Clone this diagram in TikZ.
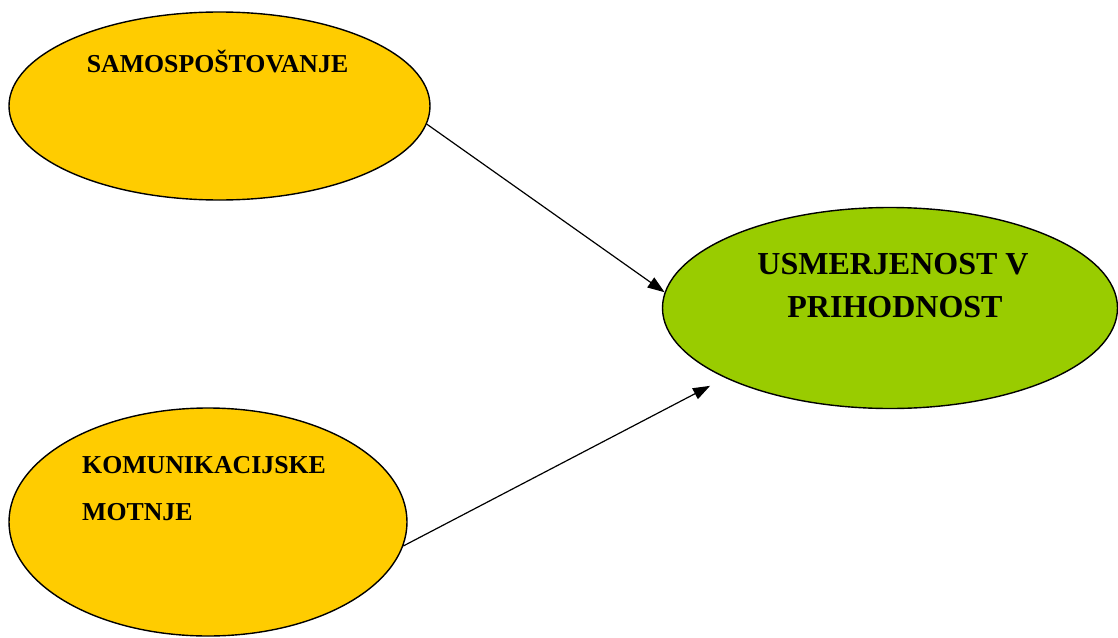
\documentclass[tikz,border=0pt]{standalone}
\usepackage{fontspec}
\setmainfont{Liberation Serif}
\usepackage{tikz}
\usetikzlibrary{shapes.geometric, arrows.meta}
\usepackage{xcolor}
\definecolor{rumena}{HTML}{FFCC00}
\definecolor{zelena}{HTML}{99CC00}

\begin{document}
\begin{tikzpicture}[x=1pt, y=-1pt,
    elipsa/.style={ellipse, draw, line width=1.4pt, inner sep=0pt},
    napis/.style={inner sep=0pt, font=\bfseries\fontsize{25.8}{30}\selectfont},
    velik/.style={inner sep=0pt, font=\bfseries\fontsize{32}{38}\selectfont},
    puscica/.style={-{Triangle[length=17pt, width=12pt]}, line width=1.2pt}]
    \useasboundingbox (0,0) rectangle (1118,637);

    % Elipse
    \node[elipsa, fill=rumena, minimum width=421pt, minimum height=188pt] (samo) at (219.5,106) {};
    \node[elipsa, fill=rumena, minimum width=398pt, minimum height=228pt] (kom) at (208,522) {};
    \node[elipsa, fill=zelena, minimum width=455pt, minimum height=201pt] (usm) at (890,308) {};

    % Napisi
    \node[napis, anchor=base] (samotxt) at (217.5,72) {SAMOSPOŠTOVANJE};
    \node[napis, anchor=base west] (komtxt) at (82,473) {KOMUNIKACIJSKE};
    \node[napis, anchor=base west] (mottxt) at (82,520) {MOTNJE};
    \node[velik, anchor=base] (usmtxt) at (893,274) {USMERJENOST V};
    \node[velik, anchor=base] (pritxt) at (895,317) {PRIHODNOST};

    % Puscice
    \draw[puscica] (samo.-5.7) -- (usm.176);
    \draw[puscica, shorten >=17pt] (kom.-7.4) -- (usm.203);
\end{tikzpicture}
\end{document}
